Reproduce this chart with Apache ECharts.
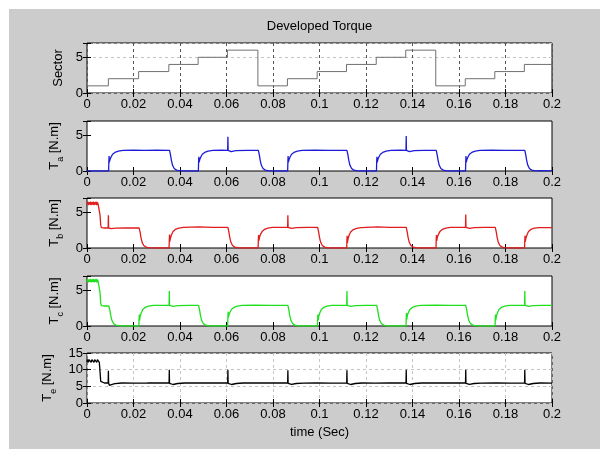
<!DOCTYPE html>
<html><head><meta charset="utf-8">
<script src="https://cdn.jsdelivr.net/npm/echarts@6/dist/echarts.min.js"></script>
<style>
html,body{margin:0;padding:0;background:#fff;}
#wrap{position:relative;width:600px;height:449px;overflow:hidden;}
#bg{position:absolute;left:9px;top:9px;width:591px;height:440px;background:#cccccc;}
#chart{position:absolute;left:0;top:0;width:600px;height:449px;}
</style></head><body>
<div id="wrap"><div id="bg"></div><div id="chart"></div></div>
<script>
// ---------- data ----------
const xTickLabels = ['0','0.02','0.04','0.06','0.08','0.1','0.12','0.14','0.16','0.18','0.2'];
const sectorTimes  = [0, 0.0092, 0.0222, 0.0352, 0.0478, 0.0604, 0.0735, 0.0862, 0.0990, 0.1116, 0.1244, 0.1371, 0.1500, 0.1627, 0.1754, 0.1881, 0.2];
const sectorValues = [1, 2, 3, 4, 5, 6, 1, 2, 3, 4, 5, 6, 1, 2, 3, 4, 4];

const taData = [
[0,0],[0.0093,0],
[0.0094,1.3],[0.0095,2.1],[0.0096,1.2],[0.0099,1.6],[0.0104,2.0],[0.0110,2.35],[0.0120,2.6],[0.0135,2.78],[0.0155,2.88],[0.0200,2.92],[0.0250,2.88],[0.0300,2.92],[0.0355,2.9],
[0.0359,2.3],[0.0363,1.5],[0.0368,0.8],[0.0375,0.35],[0.0385,0.12],[0.0400,0.03],[0.0420,0],[0.0479,0],
[0.0480,1.3],[0.0481,2.0],[0.0482,1.2],[0.0485,1.6],[0.0490,2.0],[0.0496,2.35],[0.0506,2.6],[0.0521,2.78],[0.0541,2.88],[0.0580,2.92],[0.0605,2.9],[0.0606,4.8],[0.0607,2.9],[0.0609,2.7],[0.0620,2.72],[0.0640,2.85],[0.0690,2.9],[0.0737,2.9],
[0.0741,2.3],[0.0745,1.5],[0.0750,0.8],[0.0757,0.35],[0.0767,0.12],[0.0782,0.03],[0.0802,0],[0.0863,0],
[0.0864,1.3],[0.0865,2.1],[0.0866,1.2],[0.0869,1.6],[0.0874,2.0],[0.0880,2.35],[0.0890,2.6],[0.0905,2.78],[0.0925,2.88],[0.0980,2.92],[0.1040,2.88],[0.1118,2.9],
[0.1122,2.3],[0.1126,1.5],[0.1131,0.8],[0.1138,0.35],[0.1148,0.12],[0.1163,0.03],[0.1183,0],[0.1245,0],
[0.1246,1.3],[0.1247,2.0],[0.1248,1.2],[0.1251,1.6],[0.1256,2.0],[0.1262,2.35],[0.1272,2.6],[0.1287,2.78],[0.1307,2.88],[0.1350,2.92],[0.1372,2.9],[0.1373,4.9],[0.1374,2.9],[0.1376,2.7],[0.1387,2.72],[0.1407,2.85],[0.1450,2.9],[0.1502,2.9],
[0.1506,2.3],[0.1510,1.5],[0.1515,0.8],[0.1522,0.35],[0.1532,0.12],[0.1547,0.03],[0.1567,0],[0.1628,0],
[0.1629,1.3],[0.1630,2.1],[0.1631,1.2],[0.1634,1.6],[0.1639,2.0],[0.1645,2.35],[0.1655,2.6],[0.1670,2.78],[0.1690,2.88],[0.1740,2.92],[0.1800,2.88],[0.1883,2.9],
[0.1887,2.3],[0.1891,1.5],[0.1896,0.8],[0.1903,0.35],[0.1913,0.12],[0.1928,0.03],[0.1948,0.05],[0.2000,0.02]
];

const tbData = [
[0,6.1],[0.0003,6.5],[0.0006,6.0],[0.0009,6.4],[0.0012,6.1],[0.0015,6.5],[0.0018,6.0],[0.0021,6.4],[0.0024,6.1],[0.0027,6.5],[0.0030,6.0],[0.0033,6.4],[0.0036,6.1],[0.0039,6.5],[0.0042,6.0],[0.0045,6.4],[0.0048,6.1],[0.0051,6.3],[0.0053,5.9],
[0.0056,4.6],[0.0059,3.2],[0.0062,2.85],[0.0075,2.8],[0.0091,2.8],[0.0092,4.6],[0.0093,2.8],[0.0095,2.65],[0.0105,2.7],[0.0125,2.78],[0.0170,2.8],[0.0224,2.8],
[0.0228,2.3],[0.0232,1.5],[0.0237,0.8],[0.0244,0.35],[0.0254,0.12],[0.0269,0.03],[0.0289,0],[0.0353,0],
[0.0354,1.2],[0.0355,1.9],[0.0356,0.9],[0.0359,1.4],[0.0364,1.9],[0.0370,2.3],[0.0380,2.6],[0.0395,2.78],[0.0415,2.88],[0.0480,2.95],[0.0540,2.9],[0.0606,2.88],
[0.0610,2.3],[0.0614,1.5],[0.0619,0.8],[0.0626,0.35],[0.0636,0.12],[0.0651,0.03],[0.0671,0],[0.0736,0],
[0.0737,1.2],[0.0738,1.8],[0.0739,1.0],[0.0742,1.5],[0.0747,1.95],[0.0753,2.3],[0.0763,2.6],[0.0778,2.78],[0.0798,2.88],[0.0840,2.9],[0.0863,2.9],[0.0864,4.6],[0.0865,2.9],[0.0867,2.7],[0.0880,2.75],[0.0900,2.85],[0.0950,2.9],[0.0992,2.9],
[0.0996,2.3],[0.1000,1.5],[0.1005,0.8],[0.1012,0.35],[0.1022,0.12],[0.1037,0.03],[0.1057,0],[0.1117,0],
[0.1118,1.2],[0.1119,1.7],[0.1120,0.7],[0.1123,1.3],[0.1128,1.85],[0.1134,2.25],[0.1144,2.55],[0.1159,2.75],[0.1179,2.85],[0.1250,2.95],[0.1300,2.9],[0.1373,2.88],
[0.1377,2.3],[0.1381,1.5],[0.1386,0.8],[0.1393,0.35],[0.1403,0.12],[0.1418,0.03],[0.1438,0],[0.1501,0],
[0.1502,1.2],[0.1503,1.8],[0.1504,1.0],[0.1507,1.5],[0.1512,1.95],[0.1518,2.3],[0.1528,2.6],[0.1543,2.78],[0.1563,2.88],[0.1610,2.9],[0.1628,2.9],[0.1629,4.7],[0.1630,2.9],[0.1632,2.7],[0.1645,2.75],[0.1665,2.85],[0.1710,2.9],[0.1756,2.9],
[0.1760,2.3],[0.1764,1.5],[0.1769,0.8],[0.1776,0.35],[0.1786,0.12],[0.1801,0.03],[0.1821,0],[0.1882,0],
[0.1883,1.1],[0.1884,1.7],[0.1885,0.9],[0.1888,1.4],[0.1893,1.9],[0.1899,2.3],[0.1909,2.6],[0.1924,2.78],[0.1944,2.85],[0.2000,2.85]
];

const tcData = [
[0,6.2],[0.0003,6.6],[0.0006,6.1],[0.0009,6.5],[0.0012,6.2],[0.0015,6.6],[0.0018,6.1],[0.0021,6.5],[0.0024,6.2],[0.0027,6.6],[0.0030,6.1],[0.0033,6.5],[0.0036,6.2],[0.0039,6.6],[0.0042,6.1],[0.0045,6.5],[0.0048,6.2],[0.0051,6.4],[0.0053,6.0],
[0.0056,4.7],[0.0059,3.2],[0.0062,2.85],[0.0075,2.8],[0.0094,2.8],
[0.0098,2.3],[0.0102,1.5],[0.0107,0.8],[0.0114,0.35],[0.0124,0.12],[0.0139,0.03],[0.0159,0],[0.0223,0],
[0.0224,1.0],[0.0225,1.6],[0.0226,0.8],[0.0229,1.4],[0.0234,1.9],[0.0240,2.3],[0.0250,2.6],[0.0265,2.78],[0.0285,2.88],[0.0330,2.9],[0.0353,2.9],[0.0354,4.9],[0.0355,2.9],[0.0357,2.7],[0.0370,2.75],[0.0390,2.85],[0.0440,2.9],[0.0480,2.9],
[0.0484,2.3],[0.0488,1.5],[0.0493,0.8],[0.0500,0.35],[0.0510,0.12],[0.0525,0.03],[0.0545,0],[0.0605,0],
[0.0606,1.3],[0.0607,2.0],[0.0608,1.2],[0.0611,1.6],[0.0616,2.0],[0.0622,2.35],[0.0632,2.6],[0.0647,2.78],[0.0667,2.88],[0.0720,2.92],[0.0790,2.9],[0.0864,2.9],
[0.0868,2.3],[0.0872,1.5],[0.0877,0.8],[0.0884,0.35],[0.0894,0.12],[0.0909,0.03],[0.0929,0],[0.0991,0],
[0.0992,1.0],[0.0993,1.6],[0.0994,0.8],[0.0997,1.4],[0.1002,1.9],[0.1008,2.3],[0.1018,2.6],[0.1033,2.78],[0.1053,2.88],[0.1090,2.9],[0.1117,2.9],[0.1118,4.9],[0.1119,2.9],[0.1121,2.7],[0.1134,2.75],[0.1154,2.85],[0.1200,2.9],[0.1246,2.9],
[0.1250,2.3],[0.1254,1.5],[0.1259,0.8],[0.1266,0.35],[0.1276,0.12],[0.1291,0.03],[0.1311,0],[0.1372,0],
[0.1373,1.1],[0.1374,1.8],[0.1375,0.9],[0.1378,1.5],[0.1383,1.95],[0.1389,2.3],[0.1399,2.6],[0.1414,2.78],[0.1434,2.88],[0.1500,2.92],[0.1560,2.9],[0.1629,2.9],
[0.1633,2.3],[0.1637,1.5],[0.1642,0.8],[0.1649,0.35],[0.1659,0.12],[0.1674,0.03],[0.1694,0],[0.1755,0],
[0.1756,1.0],[0.1757,1.6],[0.1758,0.8],[0.1761,1.4],[0.1766,1.9],[0.1772,2.3],[0.1782,2.6],[0.1797,2.78],[0.1817,2.88],[0.1860,2.9],[0.1882,2.9],[0.1883,4.9],[0.1884,2.9],[0.1886,2.7],[0.1899,2.75],[0.1919,2.85],[0.1960,2.9],[0.2000,2.9]
];

const teData = [
[0,12.3],[0.0003,13.1],[0.0006,12.2],[0.0009,13.0],[0.0012,12.4],[0.0015,13.1],[0.0018,12.2],[0.0021,13.0],[0.0024,12.4],[0.0027,13.1],[0.0030,12.2],[0.0033,13.0],[0.0036,12.4],[0.0039,13.1],[0.0042,12.2],[0.0045,13.0],[0.0048,12.4],[0.0051,12.9],[0.0053,12.2],
[0.0056,9.5],[0.0059,6.5],[0.0062,6.0],[0.0075,6.0],[0.0091,6.0],[0.0092,9.7],[0.0093,6.0],[0.0096,5.3],[0.0105,5.5],[0.0120,5.8],[0.0150,6.0],[0.0200,5.95],[0.0260,6.0],[0.0310,6.05],[0.0353,6.0],
[0.0354,10.0],[0.0355,5.9],[0.0358,5.3],[0.0370,5.55],[0.0390,5.85],[0.0420,6.0],[0.0480,6.05],[0.0540,6.0],[0.0605,6.05],
[0.0606,10.0],[0.0607,5.9],[0.0610,5.3],[0.0622,5.55],[0.0642,5.85],[0.0672,6.0],[0.0730,6.05],[0.0800,6.0],[0.0863,6.05],
[0.0864,9.8],[0.0865,5.9],[0.0868,5.4],[0.0880,5.6],[0.0900,5.85],[0.0930,5.95],[0.0990,6.0],[0.1050,5.95],[0.1117,6.0],
[0.1118,9.8],[0.1119,5.9],[0.1122,5.3],[0.1134,5.55],[0.1154,5.85],[0.1184,6.0],[0.1240,5.95],[0.1300,6.0],[0.1372,6.05],
[0.1373,10.0],[0.1374,5.9],[0.1377,5.3],[0.1389,5.55],[0.1409,5.85],[0.1439,6.0],[0.1500,6.05],[0.1560,6.0],[0.1628,6.05],
[0.1629,10.0],[0.1630,5.9],[0.1633,5.4],[0.1645,5.6],[0.1665,5.85],[0.1695,5.95],[0.1760,6.0],[0.1820,5.95],[0.1882,6.0],
[0.1883,10.0],[0.1884,5.9],[0.1887,5.3],[0.1899,5.55],[0.1919,5.85],[0.1949,6.0],[0.2000,5.95]
];

const titleText = 'Developed Torque';
const xAxisTitle = 'time (Sec)';
const yNames = ['Sector', '{t|T}{s|a}{t| [N.m]}', '{t|T}{s|b}{t| [N.m]}', '{t|T}{s|c}{t| [N.m]}', '{t|T}{s|e}{t| [N.m]}'];

// ---------- chart ----------
const FONT = "'Liberation Sans', Arial, Helvetica, sans-serif";
const tops = [43, 121, 198, 276, 353];
const yMaxes = [7, 7, 7, 7, 15];
const nameGaps = [20, 22, 22, 22, 30];
const colors = ['#707070', '#1c1cd8', '#e01c1c', '#1ee01e', '#000000'];
const seriesData = [
  sectorTimes.map((t, k) => [t, sectorValues[k]]),
  taData, tbData, tcData, teData
];

const grid = [], xAxis = [], yAxis = [], series = [];
tops.forEach((top, i) => {
  grid.push({left: 87, width: 465, top: top, height: 50, show: true,
    backgroundColor: '#fff', borderColor: '#000', borderWidth: 1});
  const gridX = (i === 0) ? {show: true, lineStyle: {type: [3, 3], color: '#555', width: 1}}
              : (i === 4) ? {show: true, lineStyle: {type: [3, 3], color: '#c4c4c4', width: 1}}
              : {show: false};
  const gridY = (i === 0) ? {show: true, lineStyle: {type: [3, 3], color: '#c4c4c4', width: 1}}
              : (i === 4) ? {show: true, lineStyle: {type: [3, 3], color: '#c4c4c4', width: 1}}
              : {show: false};
  xAxis.push({
    gridIndex: i, type: 'value', min: 0, max: 0.2, interval: 0.02,
    axisLine: {show: false},
    axisTick: {inside: true, length: 4, lineStyle: {color: '#000'}},
    axisLabel: {color: '#000', fontSize: 13, fontFamily: FONT, margin: 5,
      formatter: v => xTickLabels[Math.round(v / 0.02)] || ''},
    splitLine: gridX,
    name: i === 4 ? xAxisTitle : '',
    nameLocation: 'middle', nameGap: 23,
    nameTextStyle: {color: '#000', fontSize: 13, fontFamily: FONT}
  });
  xAxis.push({
    gridIndex: i, type: 'value', min: 0, max: 0.2, interval: 0.02, position: 'top',
    axisLine: {show: false}, axisLabel: {show: false}, splitLine: {show: false},
    axisTick: {inside: true, length: 4, lineStyle: {color: '#000'}}
  });
  yAxis.push({
    gridIndex: i, type: 'value', min: 0, max: yMaxes[i], interval: 5,
    axisLine: {show: false},
    axisTick: {inside: true, length: 4, lineStyle: {color: '#000'}},
    axisLabel: {color: '#000', fontSize: 13, fontFamily: FONT, margin: 4,
      formatter: v => (v % 5 === 0 ? String(v) : '')},
    splitLine: gridY,
    name: yNames[i], nameLocation: 'middle', nameRotate: 90, nameGap: nameGaps[i],
    nameTextStyle: {color: '#000', fontSize: 13, fontFamily: FONT,
      rich: {
        t: {fontSize: 13, fontFamily: FONT, color: '#000', lineHeight: 15, verticalAlign: 'top'},
        s: {fontSize: 9, fontFamily: FONT, color: '#000', lineHeight: 10, padding: [8, 0, 0, 0], verticalAlign: 'top'}
      }}
  });
  yAxis.push({
    gridIndex: i, type: 'value', min: 0, max: yMaxes[i], interval: 5, position: 'right',
    axisLine: {show: false}, axisLabel: {show: false}, splitLine: {show: false},
    axisTick: {inside: true, length: 4, lineStyle: {color: '#000'}}
  });
  series.push({
    type: 'line', xAxisIndex: 2 * i, yAxisIndex: 2 * i,
    data: seriesData[i], step: i === 0 ? 'end' : false,
    showSymbol: false, symbol: 'none',
    lineStyle: {color: colors[i], width: i === 0 ? 1 : 1.3},
    itemStyle: {color: colors[i]},
    animation: false, silent: true
  });
});

const chart = echarts.init(document.getElementById('chart'), null, {renderer: 'canvas'});
chart.setOption({
  animation: false,
  backgroundColor: 'transparent',
  graphic: [{type: 'text', x: 319.5, y: 26,
    style: {text: titleText, align: 'center', verticalAlign: 'middle',
      font: "13px 'Liberation Sans', Arial, sans-serif", fill: '#000'}}],
  grid, xAxis, yAxis, series
});
</script>
</body></html>
